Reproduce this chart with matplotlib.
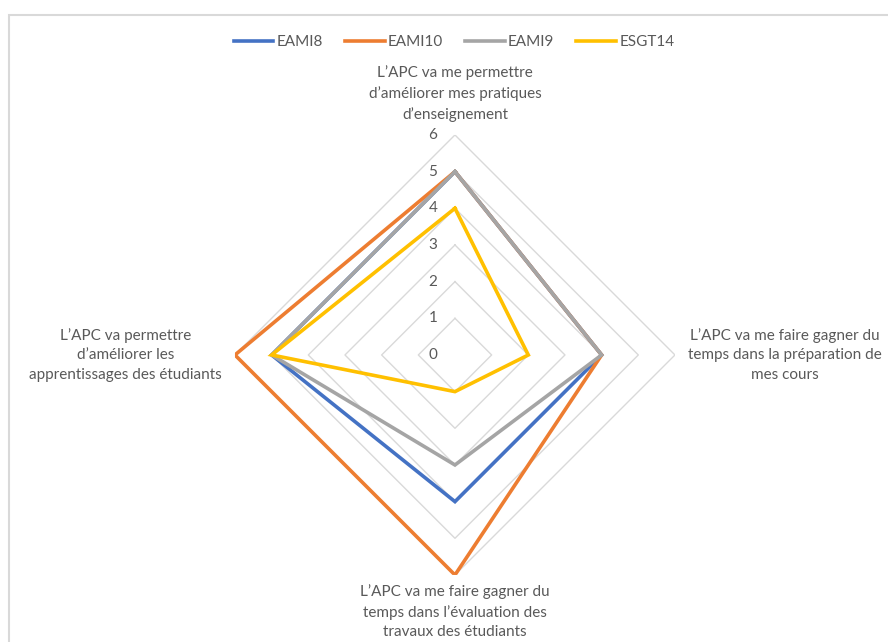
import numpy as np
import matplotlib

matplotlib.use("Agg")
import matplotlib.pyplot as plt
from matplotlib.patches import Rectangle

# --- data ----------------------------------------------------------------
categories = [
    "L\u2019APC va me permettre\nd\u2019am\u00e9liorer mes pratiques\nd\u2019enseignement",
    "L\u2019APC va me faire gagner du\ntemps dans la pr\u00e9paration de\nmes cours",
    "L\u2019APC va me faire gagner du\ntemps dans l\u2019\u00e9valuation des\ntravaux des \u00e9tudiants",
    "L\u2019APC va permettre\nd\u2019am\u00e9liorer les\napprentissages des \u00e9tudiants",
]
series_names = ["EAMI8", "EAMI10", "EAMI9", "ESGT14"]
eami8 = [5, 4, 4, 5]
eami10 = [5, 4, 6, 6]
eami9 = [5, 4, 3, 5]
esgt14 = [4, 2, 1, 5]
r_ticks = [0, 1, 2, 3, 4, 5, 6]

colors = ["#4472C4", "#ED7D31", "#A5A5A5", "#FFC000"]
TEXT = "#595959"
GRID = "#D9D9D9"

plt.rcParams["font.family"] = ["Lato", "DejaVu Sans"]

fig = plt.figure(figsize=(8.88, 6.42), dpi=100)

# light chart border (partly off the canvas, like the screenshot)
fig.patches.append(Rectangle((9 / 888, -0.05), 1.0, 1 - 15 / 642 + 0.05,
                             transform=fig.transFigure, fill=False,
                             edgecolor="#D9D9D9", lw=1.5))

ax = fig.add_axes([0.2646, 0.1044, 0.4955, 0.6854], projection="polar")
ax.set_theta_offset(np.pi / 2)
ax.set_theta_direction(-1)
ax.set_ylim(0, 6)
ax.grid(False)
ax.spines["polar"].set_visible(False)
ax.set_xticks([])
ax.set_yticks([])
ax.patch.set_alpha(0)

n = len(categories)
angles = np.arange(n) * 2 * np.pi / n
closed = np.append(angles, angles[0])

# diamond gridlines
for r in r_ticks[1:]:
    ax.plot(closed, [r] * (n + 1), color=GRID, lw=1, zorder=1)

# radial tick labels
for r in r_ticks:
    ax.annotate(str(r), xy=(0, r), xytext=(-22, 0), textcoords="offset pixels",
                ha="center", va="center", color=TEXT, fontsize=11)

# series
for name, vals, c in zip(series_names, [eami8, eami10, eami9, esgt14], colors):
    ax.plot(closed, vals + vals[:1], color=c, lw=2.6, label=name, zorder=3,
            solid_joinstyle="miter")

# category labels
offsets = [(0, 13), (13, 0), (0, -9), (-13, 0)]
has = ["center", "left", "center", "right"]
vas = ["bottom", "center", "top", "center"]
for ang, lab, off, ha, va in zip(angles, categories, offsets, has, vas):
    ax.annotate(lab, xy=(ang, 6), xytext=off, textcoords="offset pixels",
                ha=ha, va=va, color=TEXT, fontsize=11, linespacing=1.5,
                multialignment="center",
                annotation_clip=False)

leg = fig.legend(loc="center", bbox_to_anchor=(0.5 + 10 / 888, 1 - 42 / 642), ncol=4,
                 frameon=False, fontsize=11, handlelength=2.6, columnspacing=1.45,
                 handletextpad=0.2)
for t in leg.get_texts():
    t.set_color(TEXT)

fig.savefig("out.png", dpi=100)
